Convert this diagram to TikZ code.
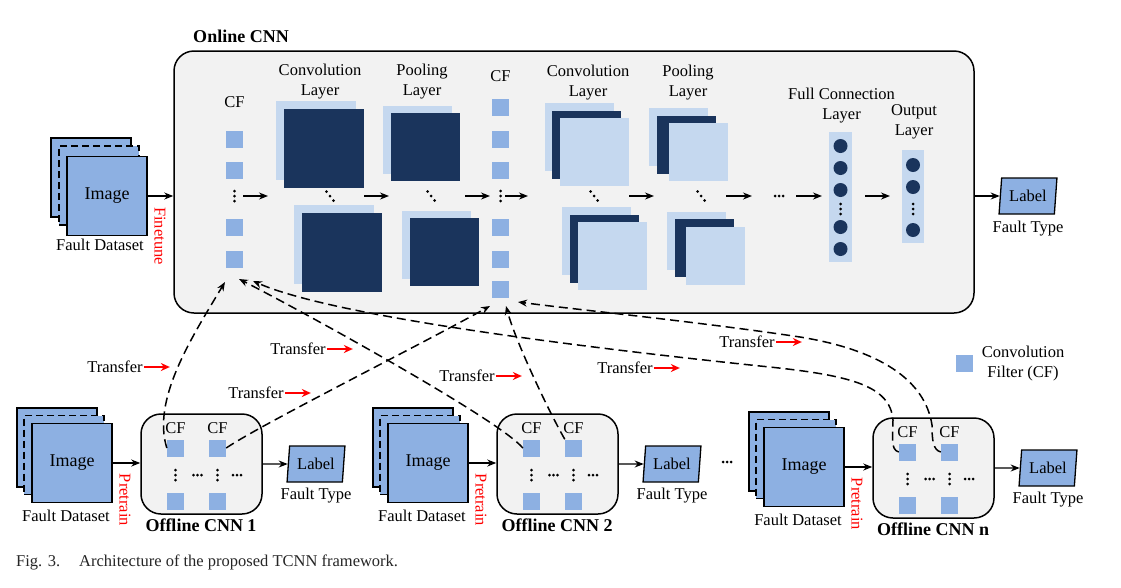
\documentclass[tikz,border=0pt]{standalone}
\usepackage{fontspec}
\setmainfont{Liberation Serif}
\usetikzlibrary{arrows.meta,shapes.geometric,calc}
\definecolor{midblue}{HTML}{8DB0E2}
\definecolor{lightblue}{HTML}{C5D8EF}
\definecolor{darkblue}{HTML}{1A345C}
\definecolor{boxgray}{HTML}{F2F2F2}
\tikzset{
  cf/.style={fill=midblue, minimum size=17pt, inner sep=0pt},
  img/.style={draw, line width=1.3pt, fill=midblue, minimum width=80pt, minimum height=79pt, inner sep=0pt},
  imgdash/.style={img, dash pattern=on 7pt off 4pt},
  imgfront/.style={img, font=\fontsize{18}{20}\selectfont},
  lt/.style={fill=lightblue, inner sep=0pt},
  dk/.style={fill=darkblue, inner sep=0pt},
  bigsq/.style={minimum width=80pt, minimum height=79pt},
  midsq/.style={minimum width=69pt, minimum height=68pt},
  smlsq/.style={minimum width=59pt, minimum height=58pt},
  cnnbox/.style={draw, line width=1.5pt, fill=boxgray, rounded corners=20pt, inner sep=0pt},
  lbl/.style={trapezium, trapezium left angle=81, trapezium right angle=99, trapezium stretches=true,
              draw, line width=1.3pt, fill=midblue, minimum width=58pt, minimum height=36pt, inner sep=0pt},
  arr/.style={-{Stealth[length=9pt,width=7pt]}, line width=1.4pt},
  tarr/.style={dash pattern=on 9pt off 5pt, line width=1.5pt, -{Stealth[length=9pt,width=7pt]}},
  redarr/.style={red, line width=1.5pt, -{Stealth[length=9pt,width=8pt]}},
  neuron/.style={circle, fill=darkblue, minimum size=14pt, inner sep=0pt},
  ttl/.style={font=\fontsize{18}{20}\selectfont\bfseries},
  redtxt/.style={text=red, rotate=-90, inner sep=0pt},
  lay/.style={align=center, inner sep=0pt},
  pics/vd/.style={code={\fill (0,-5) circle (1.5) (0,0) circle (1.5) (0,5) circle (1.5);}},
  pics/hd/.style={code={\fill (-4,0) circle (1.5) (0,0) circle (1.5) (4,0) circle (1.5);}},
  pics/dd/.style={code={\fill (-3.5,-4.5) circle (1.5) (0,0) circle (1.5) (3.5,4.5) circle (1.5);}},
}
\newcommand\offlinegroup[4]{%
\begin{scope}[shift={(#2,#3)}]
  \node[img] (#1back) at (57,447.5) {};
  \node[imgdash] (#1mid) at (64,455) {};
  \node[imgfront] (#1img) at (72,463) {Image};
  \node (#1ds) at (66,516) {Fault Dataset};
  \node[cnnbox, minimum width=121pt, minimum height=100pt] (#1box) at (201.5,464) {};
  \draw[arr] (#1img.east) -- (#1img.east -| #1box.west);
  \node[redtxt] (#1pt) at (125,500) {Pretrain};
  \node[cf] (#1a) at (175.5,448) {};
  \node[cf] (#1b) at (217.5,448) {};
  \node[cf] (#1c) at (175.5,501) {};
  \node[cf] (#1d) at (217.5,501) {};
  \node (#1cfa) at (175.5,428) {CF};
  \node (#1cfb) at (217.5,428) {CF};
  \pic at (175.5,475) {vd};
  \pic at (197.5,475) {hd};
  \pic at (217.5,475) {vd};
  \pic at (237,475) {hd};
  \node[lbl] (#1lab) at (316,464) {Label};
  \node (#1ft) at (316,496) {Fault Type};
  \node[ttl] (#1title) at (201,525) {#4};
  \draw[arr] (#1box.east) -- (#1lab.west);
\end{scope}}
\begin{document}
\begin{tikzpicture}[x=1pt, y=-1pt, font=\fontsize{16.5}{20}\selectfont]
\useasboundingbox (0,0) rectangle (1121,587);
\fill[white] (0,0) rectangle (1121,587);

% ---------- Online CNN ----------
\node[ttl] (onlt) at (241,36) {Online CNN};
\node[cnnbox, minimum width=800pt, minimum height=262pt] (online) at (574,182) {};

\node[img] (iback) at (91,177.5) {};
\node[imgdash] (imid) at (99,185.5) {};
\node[imgfront] (iimg) at (107,196) {Image};
\node (ids) at (100,245) {Fault Dataset};
\draw[arr] (iimg.east) -- (iimg.east -| online.west);
\node[redtxt] (fine) at (160,236) {Finetune};

% CF column 1
\node (cfl1) at (234.5,102) {CF};
\node[cf] (c11) at (234.5,139.5) {};
\node[cf] (c12) at (234.5,170.5) {};
\node[cf] (c13) at (234.5,227.5) {};
\node[cf] (c14) at (234.5,259) {};
\pic at (234.5,196) {vd};
\coordinate (q1) at (243,196); \coordinate (q2) at (268,196);
\draw[arr] (q1) -- (q2);

% Convolution 1
\node[lt,bigsq] (cv1a) at (316,140.5) {};
\node[dk,bigsq] (cv1b) at (324,148.5) {};
\node[lt,bigsq] (cv1c) at (334,244.5) {};
\node[dk,bigsq] (cv1d) at (342,252.5) {};
\pic at (330,196) {dd};
\node[lay] (cv1l) at (320,82) {Convolution\\Layer};
\coordinate (q3) at (364,196); \coordinate (q4) at (389,196);
\draw[arr] (q3) -- (q4);

% Pooling 1
\node[lt,midsq] (pl1a) at (417.5,140) {};
\node[dk,midsq] (pl1b) at (425.5,147) {};
\node[lt,midsq] (pl1c) at (436.5,245) {};
\node[dk,midsq] (pl1d) at (444.5,252) {};
\pic at (431,196) {dd};
\node[lay] (pl1l) at (422,82) {Pooling\\Layer};
\coordinate (q5) at (465,196); \coordinate (q6) at (490,196);
\draw[arr] (q5) -- (q6);

% CF column 2
\node (cfl2) at (500.5,76) {CF};
\node[cf] (c21) at (500.5,107) {};
\node[cf] (c22) at (500.5,139.5) {};
\node[cf] (c23) at (500.5,170.5) {};
\node[cf] (c24) at (500.5,227.5) {};
\node[cf] (c25) at (500.5,259) {};
\node[cf] (c26) at (500.5,289.5) {};
\pic at (500.5,196) {vd};
\coordinate (q7) at (505,196); \coordinate (q8) at (528,196);
\draw[arr] (q7) -- (q8);

% Convolution 2
\node[lt,midsq] (cv2a) at (579,137) {};
\node[dk,midsq] (cv2b) at (586,145) {};
\node[lt,midsq] (cv2c) at (594,152) {};
\node[lt,midsq] (cv2d) at (596,241) {};
\node[dk,midsq] (cv2e) at (604,249) {};
\node[lt,midsq] (cv2f) at (612,256) {};
\pic at (594,196) {dd};
\node[lay] (cv2l) at (588,82.5) {Convolution\\Layer};
\coordinate (q9) at (629,196); \coordinate (q10) at (654,196);
\draw[arr] (q9) -- (q10);

% Pooling 2
\node[lt,smlsq] (pl2a) at (678.5,137) {};
\node[dk,smlsq] (pl2b) at (686.5,145) {};
\node[lt,smlsq] (pl2c) at (698,152) {};
\node[lt,smlsq] (pl2d) at (696,241) {};
\node[dk,smlsq] (pl2e) at (704,248) {};
\node[lt,smlsq] (pl2f) at (715.5,256) {};
\pic at (701,196) {dd};
\node[lay] (pl2l) at (688,82.5) {Pooling\\Layer};
\coordinate (q11) at (726,196); \coordinate (q12) at (752,196);
\draw[arr] (q11) -- (q12);
\pic at (779,196) {hd};
\coordinate (q13) at (796,196); \coordinate (q14) at (822,196);
\draw[arr] (q13) -- (q14);

% Full connection
\node[lt, minimum width=23pt, minimum height=130pt] (fc) at (840.5,197) {};
\node[neuron] (n1) at (840.5,146) {};
\node[neuron] (n2) at (840.5,168) {};
\node[neuron] (n3) at (840.5,190) {};
\node[neuron] (n4) at (840.5,227) {};
\node[neuron] (n5) at (840.5,249) {};
\pic at (840.5,209) {vd};
\node[lay] (fcl) at (841.5,106) {Full Connection\\Layer};
\coordinate (q15) at (865,196); \coordinate (q16) at (890,196);
\draw[arr] (q15) -- (q16);

% Output
\node[lt, minimum width=22pt, minimum height=93pt] (ol) at (913,196.5) {};
\node[neuron] (o1) at (913,165) {};
\node[neuron] (o2) at (913,187) {};
\node[neuron] (o3) at (913,230) {};
\pic at (913,209) {vd};
\node[lay] (oll) at (914,122) {Output\\Layer};

\node[lbl] (lab0) at (1028,196) {Label};
\node (ft0) at (1028,229) {Fault Type};
\draw[arr] (lab0.west -| online.east) -- (lab0.west);

% ---------- Offline CNNs ----------
\offlinegroup{oa}{0}{0}{Offline CNN 1}
\offlinegroup{ob}{356}{0}{Offline CNN 2}
\offlinegroup{on}{732}{4}{Offline CNN n}
\pic at (727,462) {hd};

% legend
\node[cf] (leg) at (964.5,363) {};
\node[lay] (legt) at (1023,363.5) {Convolution\\Filter (CF)};

% ---------- Transfer curves ----------
\coordinate (t1) at (225,282);
\coordinate (t2) at (239,279);
\coordinate (t3) at (253,281);
\coordinate (t4) at (490,306);
\coordinate (t5) at (506,306);
\coordinate (t6) at (518,302);

\draw[tarr] (oaa.west) .. controls (152,400) and (190,340) .. (t1);
\draw[tarr] (oab.east) .. controls (260,425) and (420,345) .. (t4);
\draw[tarr] (oba.west) .. controls (500,420) and (300,310) .. (t2);
\draw[tarr] (obb.north west) .. controls (548,410) and (515,340) .. (t5);
\draw[tarr] (ona.west) .. controls (890,450) and (893,435) .. (893,420)
   .. controls (890,385) and (850,375) .. (760,366)
   .. controls (560,345) and (330,315) .. (t3);
\draw[tarr] (onb.west) .. controls (933,450) and (932,440) .. (932,425)
   .. controls (925,380) and (880,350) .. (800,337)
   .. controls (700,322) and (580,310) .. (t6);

% Transfer labels
\node[inner sep=1pt] (tr1) at (115,367) {Transfer};
\draw[redarr] (tr1.east) -- ++(26,0);
\node[inner sep=1pt] (tr2) at (256,393) {Transfer};
\draw[redarr] (tr2.east) -- ++(26,0);
\node[inner sep=1pt] (tr3) at (298,349) {Transfer};
\draw[redarr] (tr3.east) -- ++(26,0);
\node[inner sep=1pt] (tr4) at (467,376) {Transfer};
\draw[redarr] (tr4.east) -- ++(26,0);
\node[inner sep=1pt] (tr5) at (625,368) {Transfer};
\draw[redarr] (tr5.east) -- ++(26,0);
\node[inner sep=1pt] (tr6) at (747,342) {Transfer};
\draw[redarr] (tr6.east) -- ++(26,0);

% caption
\node[anchor=west, inner sep=0pt, text=black!85] (cap) at (16,562) {Fig. 3.\hspace{19pt}Architecture of the proposed TCNN framework.};
\end{tikzpicture}
\end{document}
